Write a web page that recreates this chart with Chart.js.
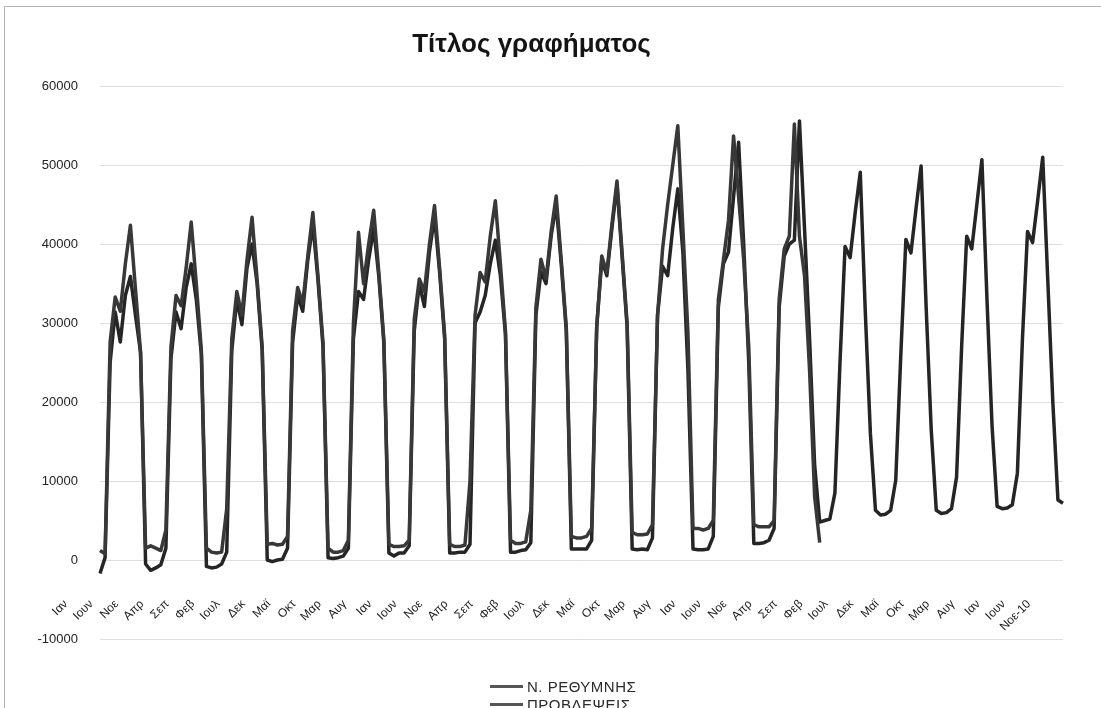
<!DOCTYPE html>
<html lang="el">
<head>
<meta charset="utf-8">
<title>Τίτλος γραφήματος</title>
<script src="https://cdn.jsdelivr.net/npm/chart.js@4.4.1/dist/chart.umd.min.js"></script>
<style>
    html, body { margin: 0; padding: 0; background: #fff; overflow: hidden; }
    #wrap { position: relative; width: 1101px; height: 708px; overflow: hidden; }
    #frame { position: absolute; left: 4px; top: 6px; right: 0; bottom: 0;
             border-left: 1px solid #b4b4b4; border-top: 1px solid #b4b4b4; pointer-events: none; }
    #legend { position: absolute; left: 490px; top: 679px;
              font: 15px "Liberation Sans", Arial, sans-serif; letter-spacing: 0.5px; color: #2a2a2a; }
    #legend .item { display: flex; align-items: center; height: 15px; margin-bottom: 3px; }
    #legend .line { display: inline-block; width: 33px; height: 3px; margin-right: 4px; }
</style>
</head>
<body>
<div id="wrap">
    <canvas id="myChart" width="1101" height="708"></canvas>
    <div id="frame"></div>
    <div id="legend"></div>
</div>
<script>
// === Δεδομένα ===
// Μήνες (ετικέτες άξονα Χ), μηνιαία από Ιαν 1995 έως Νοε 2010
const mines = ["Ιαν", "Φεβ", "Μαρ", "Απρ", "Μαϊ", "Ιουν", "Ιουλ", "Αυγ", "Σεπ", "Οκτ", "Νοε", "Δεκ"];
const protoEtos = 1995;
const teleutaioEtos = 2010;
const teleutaiosMinas = 10; // Νοε
const teleutaiaEtiketa = "Νοε-10";

// Ν. ΡΕΘΥΜΝΗΣ (Ιαν 1995 - Νοε 2006)
const rethymno = [
    1200, 800, 27600, 33300, 31500, 37500, 42400, 34300, 26300, 1500, 1800, 1500,   // 1995
    1200, 3800, 27000, 33500, 32200, 37000, 42800, 35000, 26500, 1500, 1000, 900,   // 1996
    1000, 6500, 28000, 34000, 31000, 38000, 43400, 35500, 27000, 2000, 2100, 1900,  // 1997
    2000, 3000, 29000, 34500, 32500, 38500, 44000, 36000, 27500, 1500, 1000, 1000,  // 1998
    1200, 2500, 30000, 41500, 35000, 40000, 44300, 36500, 28000, 2000, 1700, 1700,  // 1999
    1800, 2500, 30500, 35600, 34000, 40000, 44900, 37000, 28500, 2000, 1700, 1700,  // 2000
    1900, 10000, 31000, 36400, 35200, 41000, 45500, 37500, 29000, 2500, 2100, 2100, // 2001
    2300, 6300, 32000, 38100, 35600, 41500, 46100, 38000, 29500, 3000, 2800, 2800,  // 2002
    3000, 4000, 29500, 38500, 36400, 42500, 48000, 39000, 30000, 3500, 3200, 3200,  // 2003
    3300, 4500, 30900, 39400, 45000, 50000, 55000, 42000, 28800, 4000, 4000, 3800,  // 2004
    4000, 5000, 33000, 38000, 43000, 53700, 46000, 38000, 27000, 4500, 4200, 4200,  // 2005
    4200, 5000, 33000, 39400, 41000, 55200, 41000, 36000, 24000, 8000, 2200         // 2006
];

// ΠΡΟΒΛΕΨΕΙΣ (Ιαν 1995 - Νοε 2010)
const provlepseis = [
    -1700, 300, 25000, 31400, 27600, 33500, 35900, 31000, 26300, -500, -1300, -1000, // 1995
    -600, 1500, 25500, 31400, 29300, 34500, 37500, 33000, 26000, -800, -1000, -900,  // 1996
    -500, 1000, 26500, 33000, 29800, 37000, 40000, 35000, 26500, 0, -200, 0,         // 1997
    100, 1500, 27500, 33500, 31500, 38000, 42500, 35500, 27000, 300, 200, 300,       // 1998
    500, 1500, 28000, 34000, 33000, 38000, 42000, 36000, 27500, 900, 500, 900,       // 1999
    900, 1800, 29000, 35000, 32100, 39000, 43500, 36500, 28000, 900, 900, 1000,      // 2000
    1000, 2000, 30000, 31400, 33500, 37500, 40500, 36000, 28500, 1000, 1000, 1200,   // 2001
    1300, 2200, 31000, 36500, 35000, 41000, 45000, 37500, 29000, 1400, 1400, 1400,   // 2002
    1400, 2500, 29500, 38000, 36000, 42000, 47500, 38500, 29500, 1400, 1300, 1400,   // 2003
    1300, 2800, 31000, 37200, 36000, 42000, 47000, 39000, 24000, 1400, 1300, 1300,   // 2004
    1400, 3000, 32000, 37500, 39000, 46000, 52900, 40000, 25000, 2100, 2100, 2200,   // 2005
    2500, 4000, 32000, 38500, 40000, 40500, 55600, 42000, 28000, 12000, 4800, 5000,  // 2006
    5200, 8500, 25000, 39700, 38300, 44000, 49100, 31300, 16000, 6300, 5700, 5800,   // 2007
    6300, 10100, 26000, 40600, 38900, 44500, 49900, 32000, 16500, 6300, 5900, 6000,  // 2008
    6500, 10500, 27000, 41000, 39400, 45000, 50700, 33000, 17000, 6800, 6500, 6600,  // 2009
    7000, 11000, 28000, 41600, 40200, 45500, 51000, 35400, 19900, 7600, 7200         // 2010
];

// Άξονας Υ
const yMin = -10000;
const yMax = 60000;
const yBima = 10000;

// Ονόματα σειρών και χρώματα
const seires = ["Ν. ΡΕΘΥΜΝΗΣ", "ΠΡΟΒΛΕΨΕΙΣ"];
const xromata = ["#383838", "#252525"];

// === Κατηγορίες (μήνες) ===
const katigories = [];
for (let e = protoEtos; e <= teleutaioEtos; e++) {
    for (let m = 0; m < 12; m++) {
        if (e === teleutaioEtos && m > teleutaiosMinas) break;
        katigories.push(mines[m]);
    }
}
katigories[katigories.length - 1] = teleutaiaEtiketa;

Chart.defaults.font.family = "'Liberation Sans', Arial, sans-serif";
Chart.defaults.color = "#2a2a2a";

new Chart("myChart", {
    type: "line",
    data: {
        labels: katigories,
        datasets: [
            {
                label: seires[0],
                data: rethymno,
                borderColor: xromata[0],
                borderWidth: 3.5,
                pointRadius: 0,
                tension: 0,
                borderJoinStyle: "round",
                fill: false,
            },
            {
                label: seires[1],
                data: provlepseis,
                borderColor: xromata[1],
                borderWidth: 3.5,
                pointRadius: 0,
                tension: 0,
                borderJoinStyle: "round",
                fill: false,
            },
        ],
    },
    options: {
        responsive: false,
        animation: false,
        layout: { padding: { left: 0, right: 38, top: 0, bottom: 69 } },
        plugins: {
            legend: { display: false },
            tooltip: { enabled: false },
            title: {
                display: true,
                text: "Τίτλος γραφήματος",
                color: "#141414",
                font: { size: 26, weight: "bold" },
                padding: { top: 29, bottom: 26 },
            },
        },
        scales: {
            x: {
                type: "category",
                position: { y: 0 },
                grid: { display: false, drawTicks: false },
                border: { display: false },
                // οι ετικέτες δεν πρέπει να στενεύουν την περιοχή του γραφήματος
                afterFit: (scale) => {
                    scale.paddingLeft = 0;
                    scale.paddingRight = 0;
                },
                ticks: {
                    autoSkip: false,
                    minRotation: 45,
                    maxRotation: 45,
                    padding: 37,
                    labelOffset: -34,
                    font: { size: 12 },
                    color: "#222",
                    callback: function (value, index) {
                        return index % 5 === 0 ? this.getLabelForValue(value) : "";
                    },
                },
            },
            y: {
                min: yMin,
                max: yMax,
                grid: { color: "#dedede", drawTicks: false },
                border: { display: false },
                afterFit: (scale) => { scale.width = 100; },
                ticks: {
                    stepSize: yBima,
                    padding: 22,
                    font: { size: 13 },
                    color: "#222",
                    callback: (v) => String(v),
                },
            },
        },
    },
});

// === Υπόμνημα (δύο γραμμές, η μία κάτω από την άλλη) ===
const legend = document.getElementById("legend");
seires.forEach((name, i) => {
    legend.innerHTML += `<div class="item"><span class="line" style="background:#555"></span>${name}</div>`;
});
</script>
</body>
</html>
